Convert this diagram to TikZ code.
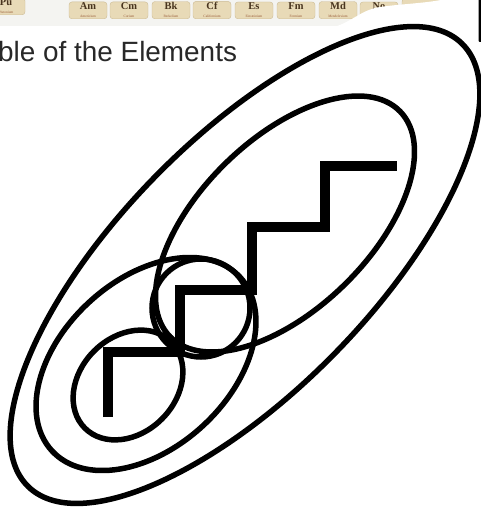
\documentclass[tikz,border=0pt]{standalone}
\usepackage{fontspec}
\setmainfont{Liberation Sans}
\newfontfamily\tilefont{Liberation Serif}
\definecolor{StripGrey}{RGB}{244,244,241}
\definecolor{TileBeige}{RGB}{232,218,183}
\definecolor{TileEdge}{RGB}{205,188,150}
\definecolor{SymbolBrown}{RGB}{72,52,30}
\definecolor{NameRust}{RGB}{150,90,55}
\definecolor{TitleGrey}{RGB}{40,40,40}
\newcommand{\elname}[1]{{\color{NameRust}\mdseries\fontsize{3.5}{4}\selectfont #1}}

\begin{document}
\begin{tikzpicture}[x=1bp, y=-1bp,
    tile/.style={draw=TileEdge, fill=TileBeige, rounded corners=3bp, minimum width=38bp, inner xsep=0pt, inner ysep=1bp, anchor=south, align=center, text=SymbolBrown, font=\tilefont\bfseries\fontsize{10.5}{10}\selectfont},
    ring/.style={draw, line width=5.5bp},
    stairline/.style={draw, line width=10bp, line join=miter}]
    \useasboundingbox (0,0) rectangle (481,512);
    \fill[StripGrey] (0,0) rectangle (481,26);
    % element tiles along the top
    \node[tile] (pu) at (6,15) {Pu\\[-2bp]\elname{Plutonium}};
    \node[tile] (am) at (88,19) {Am\\[-2bp]\elname{Americium}};
    \node[tile] (cm) at (129,19) {Cm\\[-2bp]\elname{Curium}};
    \node[tile] (bk) at (171,19) {Bk\\[-2bp]\elname{Berkelium}};
    \node[tile] (cf) at (212,19) {Cf\\[-2bp]\elname{Californium}};
    \node[tile] (es) at (254,19) {Es\\[-2bp]\elname{Einsteinium}};
    \node[tile] (fm) at (296,19) {Fm\\[-2bp]\elname{Fermium}};
    \node[tile] (md) at (338,19) {Md\\[-2bp]\elname{Mendelevium}};
    \node[tile] (no) at (379,19) {No\\[-2bp]\elname{Nobelium}};
    \node[tile, minimum height=20bp] (lr) at (421,19) {};
    \fill[white] (330,28) .. controls (350,24) and (360,10) .. (380,7) .. controls (400,4) and (430,3) .. (445,-1) -- (481,-1) -- (481,30) -- cycle;
    \fill[black, rounded corners=1bp] (478.5,-2) rectangle (482,42);
    \node[anchor=base west, inner sep=0pt, text=TitleGrey, font=\fontsize{28}{28}\selectfont] (title) at (-2,62) {ble of the Elements};
    % the logo
    \draw[ring, rotate around={45.6:(245,265)}] (245,265) ellipse [x radius=310, y radius=126];
    \draw[ring, rotate around={44.4:(285,224)}] (285,224) ellipse [x radius=161, y radius=85];
    \draw[ring, rotate around={42.7:(146,364)}] (146,364) ellipse [x radius=128, y radius=84];
    \draw[ring] (201,308) circle [radius=49];
    \draw[ring, rotate around={45:(128,385)}] (128,385) ellipse [x radius=61, y radius=48];
    \draw[stairline] (108,417) |- (180,352) |- (252,290) |- (325,227) |- (397,166);
\end{tikzpicture}
\end{document}
